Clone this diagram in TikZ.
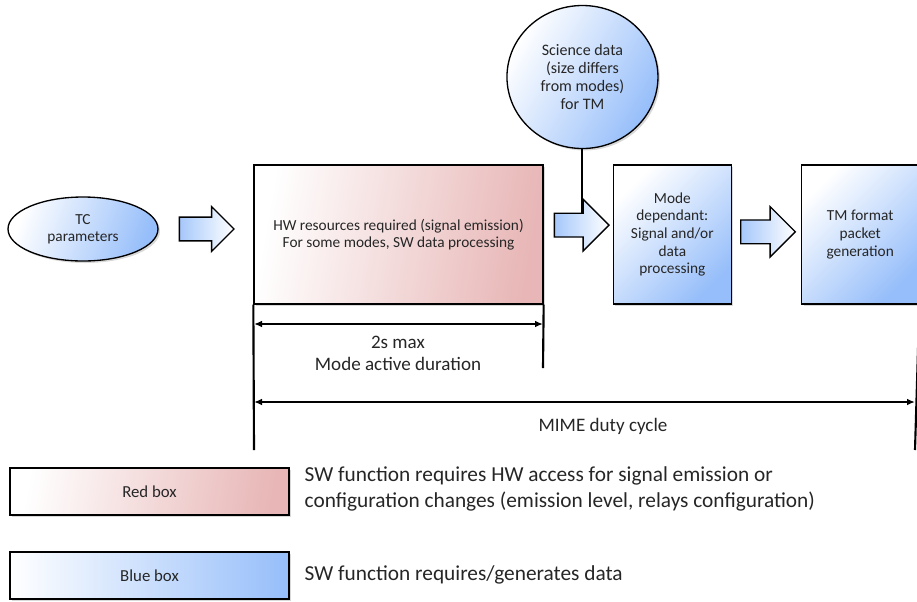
\documentclass[tikz,border=0pt]{standalone}
\usepackage{fontspec}
\setmainfont{Carlito}
\usetikzlibrary{positioning,shapes.geometric,shapes.arrows,shadows,arrows.meta}
\definecolor{redfill}{RGB}{232,182,182}
\definecolor{bluefill}{RGB}{150,190,250}
\begin{document}
\begin{tikzpicture}[
    x=0.75pt, y=-0.75pt,
    every node/.style={font=\fontsize{11.5}{12.5}\selectfont, align=center, text=black!85},
    shadowed/.style={draw, line width=1pt, drop shadow={opacity=0.3, shadow xshift=1.5pt, shadow yshift=-1.5pt}},
    redbox/.style={shadowed, rectangle, left color=white, right color=redfill, shading angle=80},
    bluebox/.style={shadowed, rectangle, left color=white, right color=bluefill, shading angle=45},
    flow/.style={single arrow, draw, line width=1pt, left color=bluefill!85, right color=white,
        inner sep=0pt, inner ysep=8.4pt, minimum height=41pt},
    dimline/.style={line width=1.6pt},
    dimarrow/.style={line width=1.3pt, {Latex[length=6pt,width=5pt]}-{Latex[length=6pt,width=5pt]}},
    dimtext/.style={font=\fontsize{14.3}{16.5}\selectfont},
    keytext/.style={font=\fontsize{16}{19.5}\selectfont, align=left, anchor=west}
]
    \useasboundingbox (0,0) rectangle (917,601);

    % flow
    \node [redbox, minimum width=216.75pt, minimum height=104.25pt] (hw) at (398.5,234.5)
        {HW resources required (signal emission)\\For some modes, SW data processing};
    \node [bluebox, minimum width=88.5pt, minimum height=104.25pt, font=\fontsize{11.5}{13.3}\selectfont,
        right=51.75pt of hw] (mode)
        {Mode\\dependant:\\Signal and/or\\data\\processing};
    \node [bluebox, minimum width=87.75pt, minimum height=104.25pt, font=\fontsize{11.5}{13.3}\selectfont,
        right=51.75pt of mode] (tm)
        {TM format\\packet\\generation};
    \node [ellipse, shadowed, left color=white, right color=bluefill, shading angle=70,
        minimum width=112.5pt, minimum height=48pt] (tc) at (83,229) {TC\\parameters};

    \node [flow, single arrow head extend=7.9pt, right=15pt of tc] (a1) {};
    \node [flow, single arrow head extend=10.5pt, right=7.5pt of hw, yshift=7pt] (a2) {};
    \node [flow, single arrow head extend=10pt, right=6pt of mode, yshift=2pt] (a3) {};

    \node [ellipse, shadowed, left color=white, right color=bluefill, shading angle=60,
        minimum width=113.25pt, minimum height=107.25pt, inner sep=0pt, font=\fontsize{12}{13.7}\selectfont]
        (sci) at (a2.before head |- 0,77) {Science data\\(size differs\\from modes)\\for TM};
    \draw [line width=1.5pt] (sci.south) -- (a2.before head);

    % durations
    \coordinate (hwbot) at (254,450);
    \coordinate (hwend) at (543,368);
    \coordinate (tmbot) at (915,450);
    \coordinate (modeL) at (254,324);
    \coordinate (modeR) at (543,324);
    \coordinate (cycL) at (254,402);
    \coordinate (cycR) at (915,402);
    \draw [dimline] (hw.south west) -- (hwbot);
    \draw [dimline] (hw.south east) -- (hwend);
    \draw [dimline] (tm.south east) -- (tmbot);
    \draw [dimarrow] (modeL) -- (modeR);
    \draw [dimarrow] (cycL) -- (cycR);
    \node [dimtext] (dur) at (398,353) {2s max\\Mode active duration};
    \node [dimtext] (cyc) at (603,426) {MIME duty cycle};

    % legend
    \node [redbox, minimum width=209.25pt, minimum height=35.25pt, font=\fontsize{12.6}{14}\selectfont]
        (redkey) at (149.5,491.5) {Red box};
    \node [bluebox, shading angle=90, minimum width=209.25pt, minimum height=35.25pt, font=\fontsize{12.6}{14}\selectfont]
        (bluekey) at (149.5,575.5) {Blue box};
    \node [keytext] (redtext) at (300,489)
        {SW function requires HW access for signal emission or\\configuration changes (emission level, relays configuration)};
    \node [keytext] (bluetext) at (300,575) {SW function requires/generates data};
\end{tikzpicture}
\end{document}
